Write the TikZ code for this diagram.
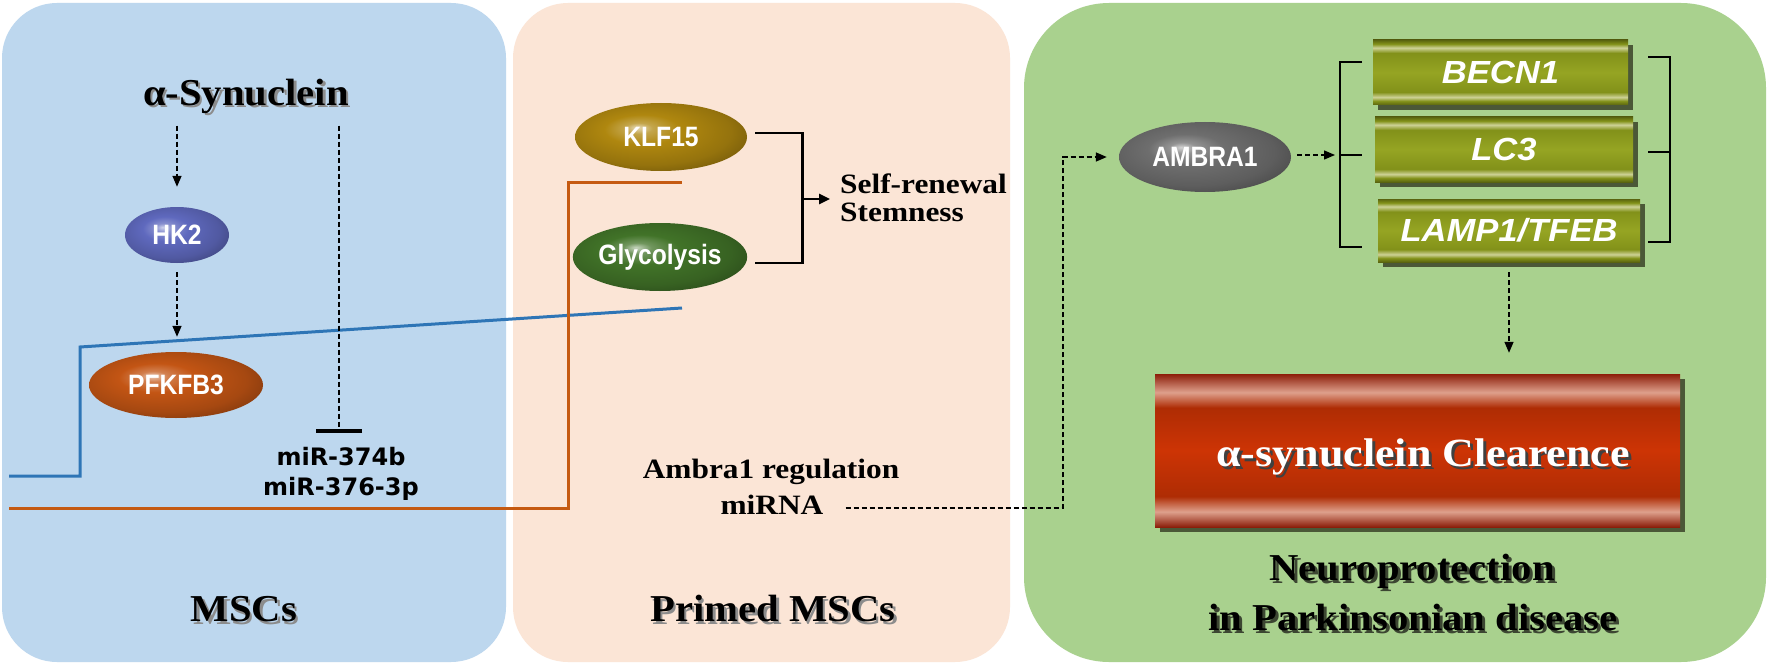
\documentclass[tikz,border=0pt]{standalone}
\usepackage{fontspec}
\usepackage{graphicx}
\setmainfont{Liberation Serif}
\newfontfamily\sansf{Liberation Sans}
\newfontfamily\dvsans{DejaVu Sans}
\usetikzlibrary{shapes.geometric,arrows.meta,shadows,calc}
\definecolor{panelblue}{HTML}{BDD7EE}
\definecolor{panelpeach}{HTML}{FBE5D6}
\definecolor{panelgreen}{HTML}{A9D18E}
\definecolor{lineblue}{HTML}{2E75B6}
\definecolor{lineorange}{HTML}{C55A11}
\definecolor{hkcol}{RGB}{95,105,190}
\definecolor{pfkcol}{RGB}{195,85,20}
\definecolor{klfcol}{RGB}{175,135,15}
\definecolor{glycol}{RGB}{65,115,40}
\definecolor{ambcol}{RGB}{110,110,110}
\definecolor{oldark}{RGB}{90,100,15}
\definecolor{olmid}{RGB}{130,145,25}
\definecolor{olmidb}{RGB}{150,165,35}
\definecolor{ollight}{RGB}{205,210,150}
\definecolor{boxshadow}{RGB}{75,88,55}
\definecolor{reddark}{RGB}{140,30,10}
\definecolor{redmain}{RGB}{205,52,5}
\definecolor{redpink}{RGB}{222,160,140}
\definecolor{txtshadow}{RGB}{60,70,50}
\colorlet{glosscol}{gray}
\pgfdeclareradialshading[glosscol]{gloss}{\pgfpoint{-7bp}{7bp}}{%
  color(0bp)=(glosscol!30!white); color(4bp)=(glosscol!75!white);
  color(11bp)=(glosscol); color(24bp)=(glosscol!85!black);
  color(33bp)=(glosscol!65!black); color(50bp)=(glosscol!65!black)}
\pgfdeclareverticalshading{olivebar}{100bp}{%
  color(0bp)=(oldark); color(25bp)=(oldark); color(28bp)=(olmid);
  color(31bp)=(ollight); color(35bp)=(olmid); color(50bp)=(olmidb);
  color(65bp)=(olmid); color(69bp)=(ollight); color(72bp)=(olmid);
  color(75bp)=(oldark); color(100bp)=(oldark)}
\pgfdeclareverticalshading{redbar}{100bp}{%
  color(0bp)=(reddark); color(25bp)=(reddark); color(30bp)=(redpink);
  color(35bp)=(redmain!85!black); color(50bp)=(redmain);
  color(64bp)=(redmain!85!black); color(69bp)=(redpink);
  color(75bp)=(reddark); color(100bp)=(reddark)}
\newcommand\myWide[1]{\scalebox{1.07}[1]{#1}}
\newcommand\myWideB[1]{\scalebox{1.12}[1]{#1}}
\newcommand\myNarrow[1]{\scalebox{0.88}[1]{#1}}
\newcommand\myBoxTxt[1]{\scalebox{1.08}[1]{#1}}
\newcommand\myRedTxt[1]{\scalebox{1.1}[1]{#1}}
\begin{document}
\begin{tikzpicture}[x=1pt,y=-1pt,
  ser/.style={inner sep=0pt, font=\bfseries\fontsize{38}{44}\selectfont, text height=26pt, text depth=9pt},
  serS/.style={ser, text=black!45},
  sertwo/.style={inner sep=0pt, font=\bfseries\fontsize{28}{32}\selectfont, text height=19pt, text depth=6pt},
  gcol/.code={\colorlet{glosscol}{#1}},
  ell/.style={ellipse, inner sep=0pt, text=white, font=\sansf\bfseries\fontsize{28}{30}\selectfont, shading=gloss},
  mirs/.style={inner sep=0pt, font=\dvsans\bfseries\fontsize{24}{28}\selectfont},
  gbox/.style={rectangle, inner sep=0pt, shading=olivebar, text=white,
    font=\sansf\bfseries\itshape\fontsize{32}{34}\selectfont,
    general shadow={shadow xshift=5pt, shadow yshift=-5pt, fill=boxshadow}},
  redbox/.style={rectangle, inner sep=0pt, shading=redbar, minimum width=525pt, minimum height=153pt,
    general shadow={shadow xshift=5pt, shadow yshift=-5pt, fill=boxshadow}},
  darr/.style={dash pattern=on 5pt off 3pt, line width=1.4pt, -{Triangle[length=11pt,width=9pt]}},
  inh/.style={dash pattern=on 5pt off 3pt, line width=1.4pt, -{Bar[width=46pt, line width=4pt]}},
  sarr/.style={line width=2.4pt, -{Triangle[length=11pt,width=10pt]}},
  brk/.style={line width=2.6pt},
  blueln/.style={lineblue, line width=3pt},
  orangeln/.style={lineorange, line width=3pt}
]
\useasboundingbox (0,0) rectangle (1769,666);
\fill[white] (0,0) rectangle (1769,666);
% panels
\fill[panelblue, rounded corners=55pt] (2,3) rectangle (506,662);
\fill[panelpeach, rounded corners=55pt] (513,3) rectangle (1010,662);
\fill[panelgreen, rounded corners=85pt] (1024,3) rectangle (1766,662);

% long lines
\coordinate (b0) at (9,476);
\coordinate (b1) at (80,476);
\coordinate (b2) at (80,347);
\coordinate (b3) at (682,308);
\draw[blueln] (b0) -- (b1) -- (b2) -- (b3);
\coordinate (o0) at (9,508);
\coordinate (o1) at (568,508);
\coordinate (o2) at (568,182);
\coordinate (o3) at (682,182);
\draw[orangeln] (o0) -- (o1) -- (o2) -- (o3);

% left panel
\node[serS] (asynS) at (248.5,99.5) {\myWide{α-Synuclein}};
\node[ser] (asyn) at (246,97) {\myWide{α-Synuclein}};
\node[ell, gcol=hkcol, minimum width=104pt, minimum height=56pt] (hk2) at (177,235) {\myNarrow{HK2}};
\node[ell, gcol=pfkcol, minimum width=174pt, minimum height=66pt] (pfk) at (176,385) {\myNarrow{PFKFB3}};
\node[mirs] (mir1) at (341,457) {miR-374b};
\node[mirs] (mir2) at (341,489) {miR-376-3p};
\coordinate (inhend) at (339,433);
\draw[darr, shorten <=11pt, shorten >=20pt] (asyn.south -| hk2.north) -- (hk2.north);
\draw[darr, shorten <=9pt, shorten >=15pt] (hk2.south) -- (hk2.south |- pfk.north);
\draw[inh, shorten <=11pt] (asyn.south -| inhend) -- (inhend);
\node[serS] (mscS) at (246.5,615.5) {\myWide{MSCs}};
\node[ser] (msc) at (244,613) {\myWide{MSCs}};

% middle panel
\node[ell, gcol=klfcol, minimum width=172pt, minimum height=68pt] (klf) at (661,137) {\myNarrow{KLF15}};
\node[ell, gcol=glycol, minimum width=174pt, minimum height=68pt] (gly) at (660,257) {\myNarrow{Glycolysis}};
\draw[brk] ([xshift=8pt,yshift=4pt]klf.east) -- ++(47,0) |- ([xshift=8pt,yshift=-6pt]gly.east);
\node[sertwo, anchor=west] (self) at (840,187) {\myWideB{Self-renewal}};
\node[sertwo, anchor=west] (stem) at (840,215) {\myWideB{Stemness}};
\coordinate (bmid) at (802,199);
\draw[sarr, shorten >=10pt] (bmid) -- (self.west |- bmid);
\node[sertwo] (ambreg) at (771,472) {\myWideB{Ambra1 regulation}};
\node[sertwo] (mirna) at (772,508) {\myWideB{miRNA}};
\node[serS] (primS) at (775.5,615.5) {\myWide{Primed MSCs}};
\node[ser] (prim) at (773,613) {\myWide{Primed MSCs}};

% right panel
\node[ell, gcol=ambcol, minimum width=172pt, minimum height=70pt] (amb) at (1205,157) {\myNarrow{AMBRA1}};
\coordinate (turn) at (1063,508);
\draw[darr, shorten <=22pt, shorten >=12pt] (mirna.east) -- (turn) |- (amb.west);
\coordinate (lbrmid) at (1340,155);
\draw[darr, shorten <=6pt, shorten >=5pt] (amb.east |- lbrmid) -- (lbrmid);

\node[gbox, minimum width=255pt, minimum height=65pt] (becn) at (1500.5,72.5) {\myBoxTxt{BECN1}};
\node[gbox, minimum width=258pt, minimum height=65pt] (lc3) at (1504,149.5) {\myBoxTxt{LC3}};
\node[gbox, minimum width=262pt, minimum height=63pt] (lamp) at (1509,230.5) {\myBoxTxt{LAMP1/TFEB}};

\draw[brk] (1362,62) -- (1340,62) -- (1340,247) -- (1362,247);
\draw[brk] (lbrmid) -- (1362,155);
\draw[brk] (1648,57) -- (1670,57) -- (1670,242) -- (1648,242);
\draw[brk] (1648,152) -- (1670,152);

\node[redbox] (red) at (1417.5,450.5) {};
\draw[darr, shorten <=10pt, shorten >=21pt] (lamp.south) -- (lamp.south |- red.north);
\node[ser, font=\bfseries\fontsize{40}{46}\selectfont, text=black!75] (clS) at (1426,461) {\myRedTxt{α-synuclein Clearence}};
\node[ser, font=\bfseries\fontsize{40}{46}\selectfont, text=white] (cl) at (1423,458) {\myRedTxt{α-synuclein Clearence}};

\node[serS, text=txtshadow] (neu1S) at (1415,575) {\myWide{Neuroprotection}};
\node[ser] (neu1) at (1412,572) {\myWide{Neuroprotection}};
\node[serS, text=txtshadow] (neu2S) at (1416,625) {\myWide{in Parkinsonian disease}};
\node[ser] (neu2) at (1413,622) {\myWide{in Parkinsonian disease}};
\end{tikzpicture}
\end{document}
